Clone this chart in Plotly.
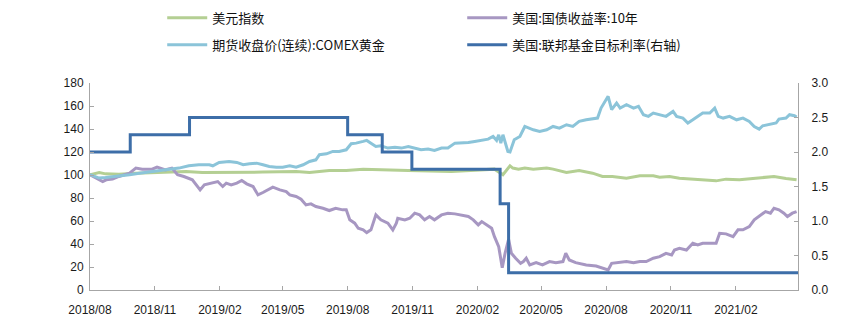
import plotly.graph_objects as go

# ---- data (index, 2018-08-01 = 100; Fed target rate in %) ----
usd_dates = ["2018-08-01", "2018-08-14", "2018-08-23", "2018-09-11", "2018-10-05", "2018-10-28",
             "2018-11-25", "2018-12-15", "2019-01-07", "2019-01-31", "2019-02-24", "2019-04-03",
             "2019-05-20", "2019-06-08", "2019-07-06", "2019-07-30", "2019-08-23", "2019-09-15",
             "2019-10-26", "2019-12-26", "2020-01-28", "2020-02-25", "2020-03-08", "2020-03-18",
             "2020-03-22", "2020-03-30", "2020-04-08", "2020-04-20", "2020-05-09", "2020-05-18",
             "2020-06-06", "2020-06-24", "2020-07-13", "2020-07-27", "2020-08-10", "2020-08-30",
             "2020-09-18", "2020-10-07", "2020-10-16", "2020-10-30", "2020-11-13", "2020-12-02",
             "2020-12-21", "2021-01-04", "2021-01-18", "2021-02-06", "2021-03-01", "2021-03-27",
             "2021-04-13", "2021-04-28"]
usd_vals = [100.2, 102.2, 101.0, 100.7, 101.6, 102.2,
            103.1, 103.1, 102.2, 102.2, 102.8, 102.5,
            103.1, 102.2, 103.9, 103.9, 105.1, 104.5,
            103.9, 103.1, 104.5, 105.1, 100.2, 108.0,
            106.0, 105.1, 106.0, 105.1, 106.0, 105.1,
            102.2, 103.9, 101.6, 98.7, 98.7, 97.2,
            99.3, 99.3, 98.1, 98.7, 97.2, 96.4,
            95.8, 94.9, 96.4, 95.8, 97.2, 98.7,
            97.0, 95.8]

ust_dates = ["2018-08-01", "2018-08-09", "2018-08-19", "2018-08-24", "2018-09-02", "2018-09-11",
             "2018-09-26", "2018-10-05", "2018-10-14", "2018-10-28", "2018-11-04", "2018-11-16",
             "2018-11-25", "2018-12-03", "2018-12-12", "2018-12-24", "2019-01-01", "2019-01-04",
             "2019-01-10", "2019-01-22", "2019-01-29", "2019-02-05", "2019-02-10", "2019-02-17",
             "2019-02-25", "2019-03-04", "2019-03-11", "2019-03-20", "2019-03-27", "2019-04-03",
             "2019-04-12", "2019-04-17", "2019-04-27", "2019-05-06", "2019-05-11", "2019-05-20",
             "2019-05-27", "2019-06-03", "2019-06-10", "2019-06-17", "2019-06-27", "2019-07-06",
             "2019-07-15", "2019-07-25", "2019-07-30", "2019-08-04", "2019-08-11", "2019-08-16",
             "2019-08-23", "2019-08-28", "2019-09-03", "2019-09-10", "2019-09-17", "2019-09-27",
             "2019-10-04", "2019-10-09", "2019-10-11", "2019-10-21", "2019-10-28", "2019-11-04",
             "2019-11-11", "2019-11-18", "2019-11-25", "2019-12-02", "2019-12-12", "2019-12-21",
             "2019-12-31", "2020-01-09", "2020-01-19", "2020-01-26", "2020-02-02", "2020-02-07",
             "2020-02-14", "2020-02-21", "2020-02-25", "2020-03-02", "2020-03-07", "2020-03-11",
             "2020-03-16", "2020-03-20", "2020-03-26", "2020-04-02", "2020-04-06", "2020-04-10",
             "2020-04-15", "2020-04-24", "2020-05-03", "2020-05-13", "2020-05-22", "2020-06-01",
             "2020-06-05", "2020-06-10", "2020-06-19", "2020-07-04", "2020-07-18", "2020-07-30",
             "2020-08-04", "2020-08-09", "2020-08-21", "2020-08-30", "2020-09-09", "2020-09-18",
             "2020-09-27", "2020-10-07", "2020-10-16", "2020-10-25", "2020-11-02", "2020-11-06",
             "2020-11-13", "2020-11-23", "2020-12-02", "2020-12-09", "2020-12-16", "2020-12-26",
             "2021-01-04", "2021-01-09", "2021-01-18", "2021-01-28", "2021-02-04", "2021-02-11",
             "2021-02-20", "2021-02-27", "2021-03-06", "2021-03-15", "2021-03-22", "2021-03-27",
             "2021-04-03", "2021-04-10", "2021-04-15", "2021-04-22", "2021-04-28"]
ust_vals = [100.2, 97.3, 94.3, 95.8, 96.4, 98.7,
            101.6, 106.0, 105.0, 105.0, 106.8, 104.5,
            106.0, 100.2, 98.7, 95.8, 90.0, 87.0,
            91.4, 92.9, 94.3, 90.0, 92.9, 91.4,
            92.9, 95.2, 92.3, 90.0, 82.7, 84.8,
            87.7, 89.4, 87.1, 85.6, 82.7, 81.3,
            79.0, 74.0, 74.9, 72.6, 71.1, 69.1,
            71.1, 69.7, 69.7, 61.0, 58.1, 53.7,
            52.3, 49.9, 52.3, 65.3, 61.0, 58.1,
            52.3, 58.1, 62.4, 61.0, 62.4, 66.8,
            65.3, 61.0, 63.9, 61.0, 65.3, 66.8,
            66.2, 65.3, 63.9, 61.0, 56.6, 59.5,
            56.6, 53.7, 46.4, 37.7, 19.4, 31.9,
            44.1, 31.9, 27.6, 23.2, 24.7, 27.6,
            21.8, 23.8, 21.8, 24.7, 23.8, 24.7,
            31.9, 26.1, 23.8, 21.8, 20.9, 18.0,
            17.4, 23.2, 23.8, 24.7, 23.8, 24.7,
            24.7, 27.6, 29.0, 31.9, 30.5, 34.8,
            36.3, 34.8, 40.6, 39.2, 40.6, 40.6,
            40.6, 49.3, 48.8, 46.4, 52.3, 52.3,
            55.2, 61.0, 63.9, 68.2, 66.8, 71.1,
            69.7, 66.8, 63.9, 66.8, 68.2]

gold_dates = ["2018-08-01", "2018-08-14", "2018-08-23", "2018-09-07", "2018-09-26", "2018-10-10",
              "2018-10-28", "2018-11-21", "2018-12-05", "2018-12-19", "2019-01-02", "2019-01-17",
              "2019-01-22", "2019-01-31", "2019-02-14", "2019-02-25", "2019-03-06", "2019-03-15",
              "2019-03-25", "2019-04-03", "2019-04-12", "2019-04-22", "2019-05-01", "2019-05-11",
              "2019-05-20", "2019-05-30", "2019-06-08", "2019-06-17", "2019-06-22", "2019-07-02",
              "2019-07-11", "2019-07-20", "2019-07-30", "2019-08-06", "2019-08-13", "2019-08-23",
              "2019-08-28", "2019-09-03", "2019-09-10", "2019-09-17", "2019-09-27", "2019-10-07",
              "2019-10-16", "2019-10-26", "2019-11-04", "2019-11-13", "2019-11-23", "2019-12-02",
              "2019-12-12", "2019-12-21", "2019-12-31", "2020-01-09", "2020-01-19", "2020-01-28",
              "2020-02-07", "2020-02-16", "2020-02-23", "2020-02-28", "2020-03-02", "2020-03-05",
              "2020-03-08", "2020-03-15", "2020-03-18", "2020-03-24", "2020-04-01", "2020-04-08",
              "2020-04-20", "2020-04-29", "2020-05-09", "2020-05-18", "2020-05-27", "2020-06-06",
              "2020-06-15", "2020-06-24", "2020-07-04", "2020-07-13", "2020-07-20", "2020-07-25",
              "2020-08-01", "2020-08-04", "2020-08-09", "2020-08-16", "2020-08-21", "2020-08-30",
              "2020-09-09", "2020-09-16", "2020-09-23", "2020-09-30", "2020-10-07", "2020-10-16",
              "2020-10-25", "2020-11-04", "2020-11-09", "2020-11-18", "2020-11-25", "2020-12-02",
              "2020-12-09", "2020-12-16", "2020-12-26", "2021-01-02", "2021-01-07", "2021-01-14",
              "2021-01-23", "2021-02-02", "2021-02-11", "2021-02-20", "2021-02-27", "2021-03-06",
              "2021-03-11", "2021-03-20", "2021-03-30", "2021-04-03", "2021-04-13", "2021-04-18",
              "2021-04-25", "2021-04-28"]
gold_vals = [100.2, 97.3, 97.8, 98.7, 100.2, 101.6,
             103.1, 104.5, 106.0, 108.0, 108.9, 108.9,
             108.0, 110.9, 111.8, 110.9, 108.9, 109.7,
             110.3, 108.9, 107.4, 106.8, 106.8, 108.0,
             106.8, 108.9, 111.8, 113.2, 117.6, 118.4,
             120.5, 120.5, 121.9, 127.2, 127.7, 129.2,
             130.1, 127.7, 124.8, 125.4, 123.4, 124.2,
             123.4, 124.8, 123.4, 121.9, 122.5, 121.3,
             123.4, 123.4, 127.7, 127.7, 128.3, 129.2,
             130.1, 131.2, 133.5, 130.1, 135.0, 127.7,
             135.0, 120.5, 120.0, 130.6, 133.5, 142.2,
             139.3, 137.9, 139.3, 142.2, 140.8, 143.7,
             142.2, 146.6, 148.0, 148.6, 149.5, 158.2,
             165.5, 168.4, 156.8, 162.6, 158.2, 161.1,
             158.2, 159.7, 152.4, 151.0, 153.9, 152.4,
             151.0, 155.3, 151.0, 149.5, 145.2, 148.0,
             151.0, 153.9, 153.9, 158.2, 151.0, 149.5,
             151.0, 148.0, 149.5, 146.6, 142.2, 139.9,
             142.8, 143.7, 145.2, 148.6, 149.5, 152.4,
             151.5, 150.4]

fed_dates = ["2018-08-01", "2018-09-27", "2018-12-20", "2019-08-01", "2019-09-19",
             "2019-10-31", "2020-03-04", "2020-03-16", "2021-04-30"]
fed_vals = [2.00, 2.25, 2.50, 2.25, 2.00, 1.75, 1.25, 0.25, 0.25]

names = ["美元指数", "美国:国债收益率:10年", "期货收盘价(连续):COMEX黄金", "美国:联邦基金目标利率(右轴)"]
colors = ["#b4cf93", "#a797c2", "#8bc4d9", "#3d6ea8"]

fig = go.Figure()
fig.add_trace(go.Scatter(x=usd_dates, y=usd_vals, name=names[0], mode="lines",
                         line=dict(color=colors[0], width=3), legend="legend"))
fig.add_trace(go.Scatter(x=ust_dates, y=ust_vals, name=names[1], mode="lines",
                         line=dict(color=colors[1], width=3), legend="legend"))
fig.add_trace(go.Scatter(x=gold_dates, y=gold_vals, name=names[2], mode="lines",
                         line=dict(color=colors[2], width=3), legend="legend2"))
fig.add_trace(go.Scatter(x=fed_dates, y=fed_vals, name=names[3], mode="lines",
                         line=dict(color=colors[3], width=3, shape="hv"),
                         yaxis="y2", legend="legend2"))

tick_font = dict(family="Liberation Sans, Arial, sans-serif", size=12, color="#1a1a1a")
legend_font = dict(family="Noto Sans CJK SC, sans-serif", size=13, color="#111111")
axis_common = dict(showline=True, linecolor="#a6a6a6", linewidth=1, showgrid=False,
                   zeroline=False, ticks="inside", ticklen=4, tickcolor="#a6a6a6",
                   tickfont=tick_font)
legend_common = dict(orientation="h", xanchor="left", yanchor="middle", itemwidth=40,
                     entrywidth=245, entrywidthmode="pixels", font=legend_font,
                     bgcolor="rgba(0,0,0,0)")

fig.update_layout(
    width=848, height=326,
    margin=dict(l=90, r=50, t=83, b=36, autoexpand=False),
    paper_bgcolor="white", plot_bgcolor="white",
    xaxis=dict(type="date", range=["2018-08-01", "2021-04-30"], tick0="2018-08-01",
               dtick="M3", tickformat="%Y/%m", ticklabelstandoff=9, **axis_common),
    yaxis=dict(range=[0, 180], dtick=20, ticklabelstandoff=3, **axis_common),
    yaxis2=dict(range=[0, 3], dtick=0.5, tickformat=".1f", overlaying="y", side="right",
                ticklabelstandoff=10, **axis_common),
    legend=dict(x=0.102, y=1.315, **legend_common),
    legend2=dict(x=0.102, y=1.185, **legend_common),
    showlegend=True,
)

fig.write_html("out.html")
